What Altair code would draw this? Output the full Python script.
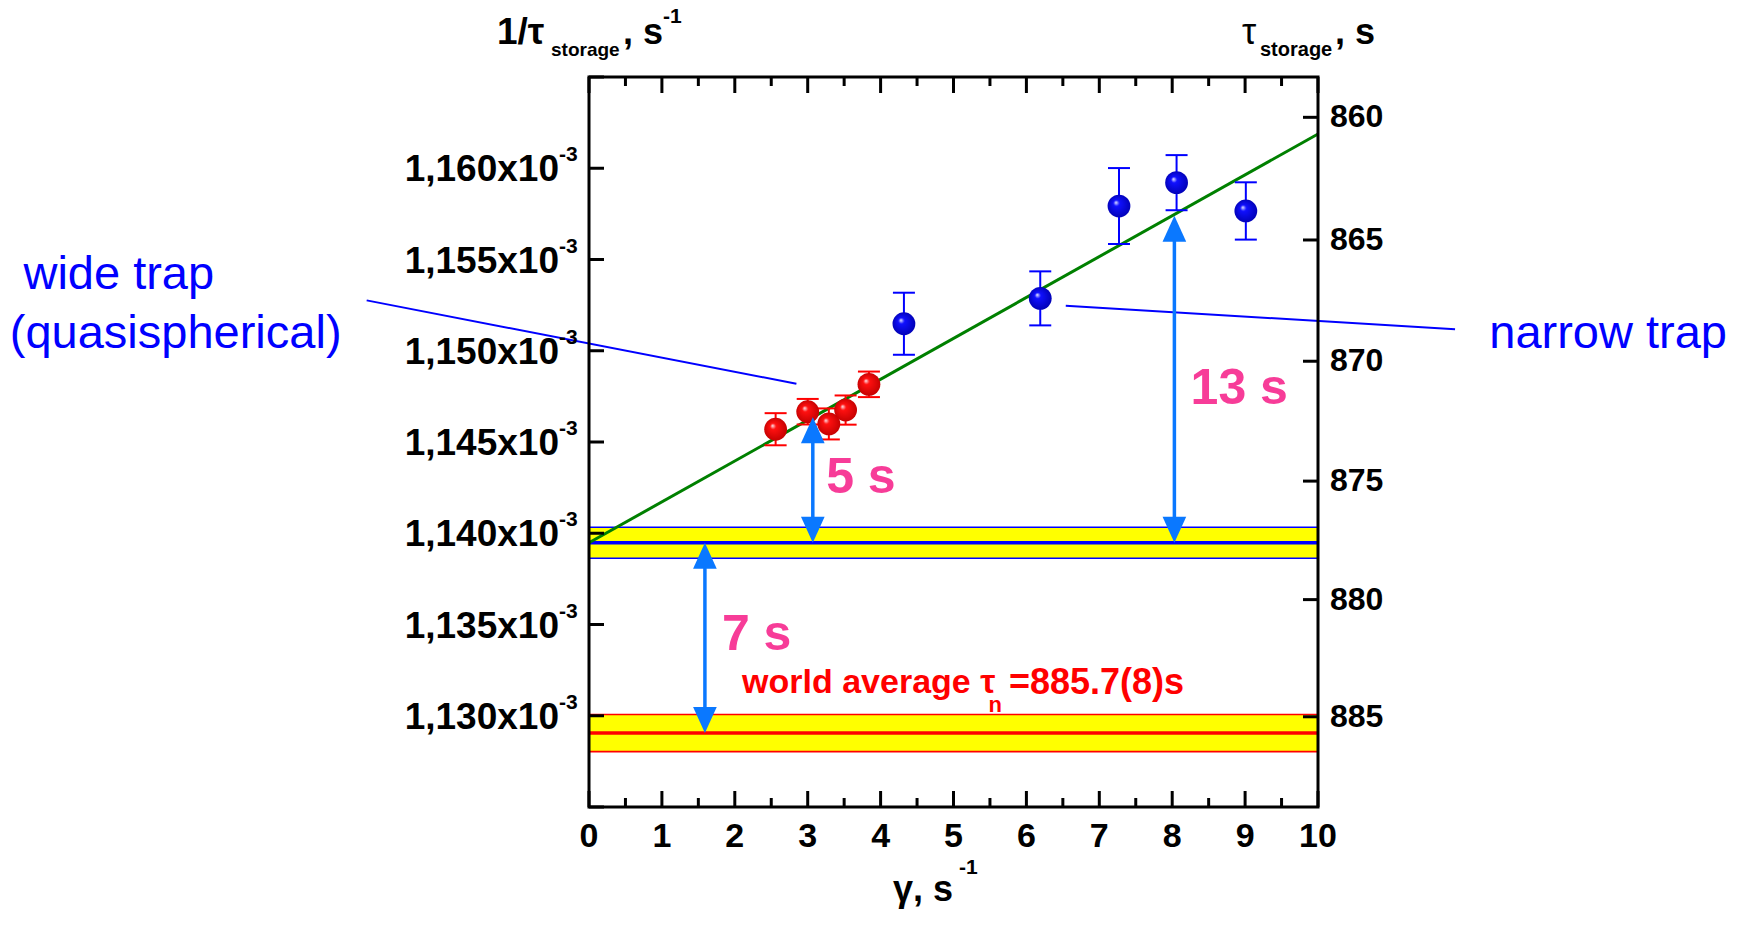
import altair as alt
import pandas as pd

# ---- measurements: collision frequency gamma (1/s) vs inverse storage time (1/s)
wide_gamma = [2.56, 3.00, 3.29, 3.52, 3.84]
wide_inv_tau = [1.14570e-3, 1.14666e-3, 1.14599e-3, 1.14675e-3, 1.14816e-3]
wide_err = [0.88e-6, 0.70e-6, 0.85e-6, 0.80e-6, 0.70e-6]

narrow_gamma = [4.32, 6.19, 7.27, 8.06, 9.01]
narrow_inv_tau = [1.15148e-3, 1.15287e-3, 1.15793e-3, 1.15921e-3, 1.15766e-3]
narrow_err = [1.70e-6, 1.48e-6, 2.08e-6, 1.51e-6, 1.57e-6]

# linear fit, end points
fit_gamma = [0.0, 10.0]
fit_inv_tau = [1.13948e-3, 1.16188e-3]

# extrapolation to gamma = 0 and its uncertainty
extrap_inv_tau = 1.13948e-3
extrap_half = 0.85e-6

# world average neutron lifetime, s
world_tau = 885.7
world_tau_err = 0.8

# difference arrows
arrow_gamma = [3.07, 8.03, 1.59]
arrow_lo = [extrap_inv_tau, extrap_inv_tau, 1 / world_tau]
arrow_hi = [1.14636e-3, 1.15740e-3, extrap_inv_tau]
arrow_text = ["5 s", "13 s", "7 s"]
arrow_text_gamma = [3.73, 8.92, 2.30]
arrow_text_inv_tau = [1.14302e-3, 1.14789e-3, 1.13442e-3]

# axis ticks
x_major = list(range(0, 11))
x_minor = [i + 0.5 for i in range(0, 10)]
y_ticks = [1.125e-3, 1.130e-3, 1.135e-3, 1.140e-3, 1.145e-3, 1.150e-3, 1.155e-3, 1.160e-3, 1.165e-3]
y_labels = [1.130e-3, 1.135e-3, 1.140e-3, 1.145e-3, 1.150e-3, 1.155e-3, 1.160e-3]
tau_ticks = [860, 865, 870, 875, 880, 885]

# leader lines for the trap labels (gamma, 1/tau)
lead_id = ["wide", "wide", "narrow", "narrow"]
lead_gamma = [-3.05, 2.845, 6.54, 11.88]
lead_inv_tau = [1.15276e-3, 1.14819e-3, 1.15246e-3, 1.15118e-3]

W, H = 729, 730
FONT = "Liberation Sans, Arial, sans-serif"
ARROW_BLUE = "#0a78ff"
PINK = "#f73c98"

xs = alt.Scale(domain=[0, 10], nice=False, zero=False)
ys = alt.Scale(domain=[1.125e-3, 1.165e-3], nice=False, zero=False)


def X(f):
    return alt.X(f, type="quantitative", scale=xs, axis=None)


def Y(f):
    return alt.Y(f, type="quantitative", scale=ys, axis=None)


def Y2(f):
    return alt.Y2(f)


wide = pd.DataFrame({"g": wide_gamma, "v": wide_inv_tau, "e": wide_err})
narrow = pd.DataFrame({"g": narrow_gamma, "v": narrow_inv_tau, "e": narrow_err})
for d in (wide, narrow):
    d["lo"] = d["v"] - d["e"]
    d["hi"] = d["v"] + d["e"]

bands = pd.DataFrame({
    "c": [extrap_inv_tau, 1 / world_tau],
    "lo": [extrap_inv_tau - extrap_half, 1 / (world_tau + world_tau_err)],
    "hi": [extrap_inv_tau + extrap_half, 1 / (world_tau - world_tau_err)],
    "col": ["#0000ff", "#ff0000"],
})

layers = []

# yellow uncertainty bands with their edges and centre lines
layers.append(
    alt.Chart(bands).mark_rect(fill="#ffff00", strokeWidth=1.6).encode(
        x=alt.value(0), x2=alt.value(W), y=Y("lo"), y2=Y2("hi"),
        stroke=alt.Color("col:N", scale=None),
    )
)
layers.append(
    alt.Chart(bands).mark_rule(strokeWidth=3.5).encode(
        x=alt.value(0), x2=alt.value(W), y=Y("c"),
        color=alt.Color("col:N", scale=None),
    )
)

# fit line
fit = pd.DataFrame({"g": fit_gamma, "v": fit_inv_tau})
layers.append(alt.Chart(fit).mark_line(color="#008000", strokeWidth=3).encode(x=X("g"), y=Y("v")))

# leader lines
lead = pd.DataFrame({"id": lead_id, "g": lead_gamma, "v": lead_inv_tau})
layers.append(
    alt.Chart(lead).mark_line(color="#0000ff", strokeWidth=2).encode(
        x=X("g"), y=Y("v"), detail="id:N"
    )
)


def ball(color_light, color_mid, color_dark):
    return alt.RadialGradient(
        gradient="radial",
        x1=0.36, y1=0.34, r1=0.0,
        x2=0.5, y2=0.5, r2=0.55,
        stops=[
            alt.GradientStop(offset=0.0, color=color_light),
            alt.GradientStop(offset=0.24, color=color_mid),
            alt.GradientStop(offset=1.0, color=color_dark),
        ],
    )


for d, col, grad in (
    (wide, "#ff0000", ball("#fbeef4", "#ff1010", "#c00000")),
    (narrow, "#0000ff", ball("#f2f4ff", "#1010ff", "#0000b0")),
):
    base = alt.Chart(d)
    layers.append(base.mark_rule(color=col, strokeWidth=2).encode(x=X("g"), y=Y("lo"), y2=Y2("hi")))
    layers.append(base.mark_tick(color=col, orient="horizontal", size=22, thickness=2, opacity=1).encode(x=X("g"), y=Y("lo")))
    layers.append(base.mark_tick(color=col, orient="horizontal", size=22, thickness=2, opacity=1).encode(x=X("g"), y=Y("hi")))
    layers.append(
        base.mark_point(shape="circle", filled=True, size=520, fill=grad, opacity=1, strokeWidth=0).encode(
            x=X("g"), y=Y("v")
        )
    )

# double-headed arrows
arrows = pd.DataFrame({"g": arrow_gamma, "lo": arrow_lo, "hi": arrow_hi})
layers.append(
    alt.Chart(arrows).mark_rule(color=ARROW_BLUE, strokeWidth=3.5, yOffset=-12, y2Offset=12).encode(
        x=X("g"), y=Y("lo"), y2=Y2("hi")
    )
)
layers.append(
    alt.Chart(arrows).mark_point(shape="M0,0L-1,2.2L1,2.2Z", size=560, filled=True, opacity=1, color=ARROW_BLUE, strokeWidth=0).encode(
        x=X("g"), y=Y("hi")
    )
)
layers.append(
    alt.Chart(arrows).mark_point(shape="M0,0L-1,-2.2L1,-2.2Z", size=560, filled=True, opacity=1, color=ARROW_BLUE, strokeWidth=0).encode(
        x=X("g"), y=Y("lo")
    )
)
arrow_labels = pd.DataFrame({"g": arrow_text_gamma, "v": arrow_text_inv_tau, "t": arrow_text})
layers.append(
    alt.Chart(arrow_labels).mark_text(font=FONT, fontSize=50, fontWeight="bold", color=PINK).encode(
        x=X("g"), y=Y("v"), text="t:N"
    )
)

# world-average label, with subscript n
wa = pd.DataFrame({
    "g": [2.10, 5.48, 5.76],
    "v": [1.13180e-3, 1.13058e-3, 1.13180e-3],
    "t": ["world average τ", "n", "=885.7(8)s"],
    "s": [34, 22, 36],
})
layers.append(
    alt.Chart(wa).mark_text(font=FONT, fontWeight="bold", color="#ff0000", align="left", baseline="middle").encode(
        x=X("g"), y=Y("v"), text="t:N", size=alt.Size("s:Q", scale=None)
    )
)

# trap labels
trap = pd.DataFrame({
    "g": [-6.45, -5.67, 13.98],
    "v": [1.15417e-3, 1.15093e-3, 1.15093e-3],
    "t": ["wide trap", "(quasispherical)", "narrow trap"],
})
layers.append(
    alt.Chart(trap).mark_text(font=FONT, fontSize=47, color="#0000ff").encode(
        x=X("g"), y=Y("v"), text="t:N"
    )
)

# frame and inward ticks
layers.append(
    alt.Chart(pd.DataFrame({"a": [0]})).mark_rect(fillOpacity=0, stroke="black", strokeWidth=3).encode(
        x=alt.value(0), x2=alt.value(W), y=alt.value(0), y2=alt.value(H)
    )
)
xmaj = alt.Chart(pd.DataFrame({"g": x_major}))
xmin = alt.Chart(pd.DataFrame({"g": x_minor}))
layers.append(xmaj.mark_rule(color="black", strokeWidth=3).encode(x=X("g"), y=alt.value(H), y2=alt.value(H - 16)))
layers.append(xmin.mark_rule(color="black", strokeWidth=3).encode(x=X("g"), y=alt.value(H), y2=alt.value(H - 9)))
layers.append(xmaj.mark_rule(color="black", strokeWidth=3).encode(x=X("g"), y=alt.value(0), y2=alt.value(16)))
layers.append(xmin.mark_rule(color="black", strokeWidth=3).encode(x=X("g"), y=alt.value(0), y2=alt.value(9)))
layers.append(
    alt.Chart(pd.DataFrame({"v": y_ticks})).mark_rule(color="black", strokeWidth=3).encode(
        y=Y("v"), x=alt.value(0), x2=alt.value(15)
    )
)
taus = alt.Chart(pd.DataFrame({"tau": tau_ticks})).transform_calculate(v="1 / datum.tau")
layers.append(taus.mark_rule(color="black", strokeWidth=3).encode(y=Y("v"), x=alt.value(W), x2=alt.value(W - 15)))

# tick labels
layers.append(
    xmaj.mark_text(font=FONT, fontSize=34, fontWeight="bold", baseline="middle").encode(
        x=X("g"), y=alt.value(H + 30), text=alt.Text("g:Q", format="d")
    )
)
ylab = alt.Chart(pd.DataFrame({"v": y_labels})).transform_calculate(
    t="replace(format(datum.v * 1000, '.3f'), '.', ',') + 'x10'"
)
layers.append(
    ylab.mark_text(font=FONT, fontSize=37, fontWeight="bold", align="right", baseline="middle", dy=2).encode(
        y=Y("v"), x=alt.value(-30), text="t:N"
    )
)
layers.append(
    ylab.mark_text(font=FONT, fontSize=21, fontWeight="bold", align="left", baseline="middle", dy=-13).encode(
        y=Y("v"), x=alt.value(-30), text=alt.value("-3")
    )
)
layers.append(
    taus.mark_text(font=FONT, fontSize=32, fontWeight="bold", align="left", baseline="middle").encode(
        y=Y("v"), x=alt.value(W + 12), text=alt.Text("tau:Q", format="d")
    )
)


def piece(text, x, y, size, weight="bold", color="black"):
    return alt.Chart(pd.DataFrame({"t": [text]})).mark_text(
        font=FONT, fontSize=size, fontWeight=weight, color=color, align="left", baseline="middle"
    ).encode(x=alt.value(x), y=alt.value(y), text="t:N")


# axis titles
layers += [
    piece("1/τ", -92, -44, 37),
    piece("storage", -38, -27, 19),
    piece(", s", 34, -44, 36),
    piece("-1", 74, -60, 21),
    piece("τ", 653, -44, 36, weight="normal"),
    piece("storage", 671, -27, 20),
    piece(", s", 746, -44, 36),
    piece("γ, s", 304, 813, 36),
    piece("-1", 370, 791, 21),
]

chart = alt.layer(*layers).properties(
    width=W,
    height=H,
    padding={"left": 589, "top": 77, "right": 1744 - 589 - W, "bottom": 926 - 77 - H},
    autosize=alt.AutoSizeParams(type="none"),
    background="white",
).configure_view(stroke=None)

chart.save("out.html", embed_options={"renderer": "svg", "actions": False})
